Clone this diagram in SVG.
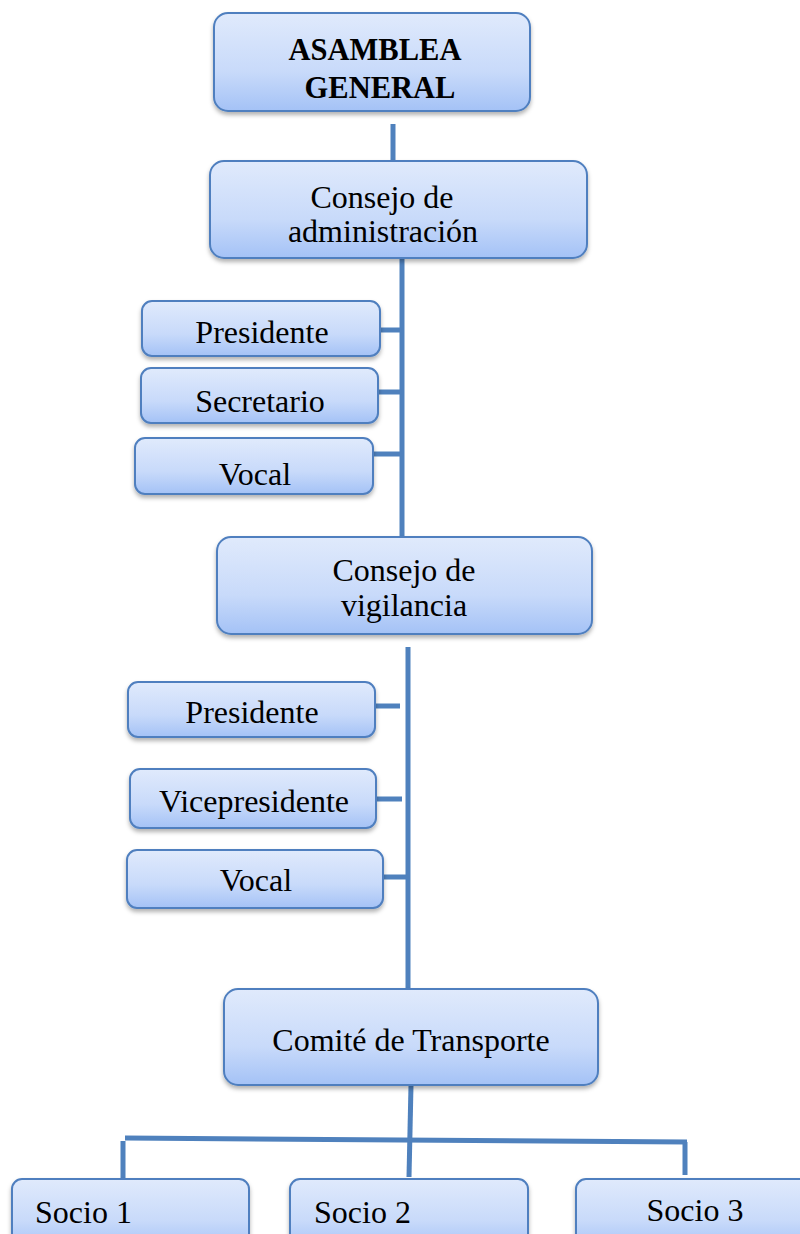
<svg xmlns="http://www.w3.org/2000/svg" width="800" height="1234" viewBox="0 0 800 1234">
<style>
.box{fill:url(#g);stroke:#4f7fbf;stroke-width:2;filter:url(#sh)}
.t{font-family:"Liberation Serif","Times New Roman",serif;font-size:32px;fill:#000;text-anchor:middle}
.b{font-weight:bold;font-size:30.5px}
.st{text-anchor:start}
.c{stroke:#4f81bd;stroke-width:5;fill:none}
</style>
<defs>
<linearGradient id="g" x1="0" y1="0" x2="0" y2="1">
<stop offset="0" stop-color="#e0eafc"/>
<stop offset="0.6" stop-color="#c8dafa"/>
<stop offset="1" stop-color="#a4c2f6"/>
</linearGradient>
<filter id="sh" x="-10%" y="-10%" width="120%" height="130%">
<feDropShadow dx="0" dy="3" stdDeviation="2" flood-color="#000" flood-opacity="0.3"/>
</filter>
</defs>
<rect width="800" height="1234" fill="#fff"/>
<g id="connectors">
<path class="c" d="M393 124V161"/>
<path class="c" d="M402 258V537"/>
<path class="c" d="M380 330H402M376 392H402M373 454H402"/>
<path class="c" d="M408 647V993"/>
<path class="c" d="M375 706H400M376 799H402M383 877H408"/>
<path class="c" d="M411 1085L409 1177"/>
<path class="c" d="M125 1138L687 1142"/>
<path class="c" d="M123 1141V1178M685 1142V1175"/>
</g>
<g id="asamblea">
<rect class="box" x="214" y="13" width="316" height="98" rx="14"/>
<text class="t b" x="375" y="60">ASAMBLEA</text>
<text class="t b" x="380" y="98">GENERAL</text>
</g>
<g id="consejo-admin">
<rect class="box" x="210" y="161" width="377" height="97" rx="14"/>
<text class="t" x="382" y="208">Consejo de</text>
<text class="t" x="383" y="242">administración</text>
</g>
<g id="presidente1">
<rect class="box" x="142" y="301" width="238" height="55" rx="10"/>
<text class="t" x="262" y="343">Presidente</text>
</g>
<g id="secretario">
<rect class="box" x="141" y="368" width="237" height="55" rx="10"/>
<text class="t" x="260" y="412">Secretario</text>
</g>
<g id="vocal1">
<rect class="box" x="135" y="438" width="238" height="56" rx="10"/>
<text class="t" x="255" y="485">Vocal</text>
</g>
<g id="consejo-vigilancia">
<rect class="box" x="217" y="537" width="375" height="97" rx="14"/>
<text class="t" x="404" y="581">Consejo de</text>
<text class="t" x="404" y="616">vigilancia</text>
</g>
<g id="presidente2">
<rect class="box" x="128" y="682" width="247" height="55" rx="10"/>
<text class="t" x="252" y="723">Presidente</text>
</g>
<g id="vicepresidente">
<rect class="box" x="130" y="769" width="246" height="59" rx="10"/>
<text class="t" x="254" y="812">Vicepresidente</text>
</g>
<g id="vocal2">
<rect class="box" x="127" y="850" width="256" height="58" rx="10"/>
<text class="t" x="256" y="891">Vocal</text>
</g>
<g id="comite">
<rect class="box" x="224" y="989" width="374" height="96" rx="14"/>
<text class="t" x="411" y="1051">Comité de Transporte</text>
</g>
<g id="socio1">
<rect class="box" x="12" y="1179" width="237" height="70" rx="10"/>
<text class="t st" x="35" y="1223">Socio 1</text>
</g>
<g id="socio2">
<rect class="box" x="290" y="1179" width="238" height="70" rx="10"/>
<text class="t st" x="314" y="1223">Socio 2</text>
</g>
<g id="socio3">
<rect class="box" x="576" y="1179" width="240" height="70" rx="10"/>
<text class="t" x="695" y="1221">Socio 3</text>
</g>
</svg>
